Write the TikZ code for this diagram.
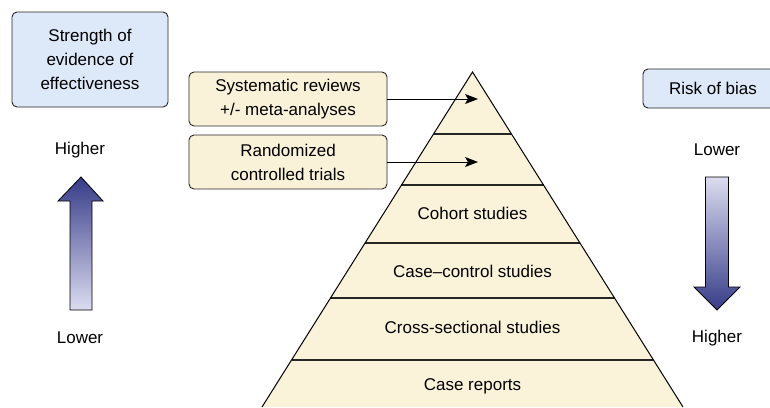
\documentclass[tikz,border=0pt]{standalone}
\usepackage{fontspec}
\setmainfont{Liberation Sans}
\usetikzlibrary{arrows.meta}
\definecolor{bluebox}{HTML}{DDE8F8}
\definecolor{creambox}{HTML}{FAF2D8}
\definecolor{pyrfill}{HTML}{FAF3DA}
\definecolor{arrdark}{HTML}{363C88}
\definecolor{arrlight}{HTML}{DCDCF0}
\tikzset{
  txt/.style={font=\fontsize{17}{24}\selectfont, align=center, inner sep=0pt},
  bbox/.style={draw=black!85, line width=0.9pt, rounded corners=5pt, fill=bluebox, txt},
  cbox/.style={draw=black!85, line width=0.9pt, rounded corners=5pt, fill=creambox, txt},
  lvl/.style={line width=1.2pt, black!85},
  ptr/.style={line width=1pt, -{Stealth[length=13pt,width=10pt,inset=3pt]}},
  fatarrow/.style={draw=black, line width=0.8pt}
}
\begin{document}
\begin{tikzpicture}[x=1pt,y=-1pt]
\useasboundingbox (0,0) rectangle (770,407);
% boxes
\node[bbox, minimum width=156pt, minimum height=95pt] (strength) at (90,59.5) {Strength of\\evidence of\\effectiveness};
\node[bbox, minimum width=140pt, minimum height=39pt] (risk) at (713,88.5) {Risk of bias};
\node[cbox, minimum width=198pt, minimum height=54pt] (sys) at (288,99) {Systematic reviews\\+/- meta-analyses};
\node[cbox, minimum width=198pt, minimum height=54pt] (rct) at (288,162) {Randomized\\controlled trials};
% pyramid
\coordinate (apex) at (472.5,72);
\coordinate (bl) at (262,407);
\coordinate (br) at (683,407);
\fill[pyrfill] (apex) -- (bl) -- (br) -- cycle;
\foreach \yy in {134,185,243,298,360}{
  \draw[lvl] ({472.5-(\yy-72)*0.6284},\yy) -- ({472.5+(\yy-72)*0.6284},\yy);
}
\draw[line width=1pt] (bl) -- (apex) -- (br);
\node[txt] (cohort) at (472.5,213) {Cohort studies};
\node[txt] (cc) at (472.5,271) {Case–control studies};
\node[txt] (cs) at (472.5,327) {Cross-sectional studies};
\node[txt] (cr) at (472.5,386) {Case reports};
% pointers
\coordinate (t1) at (478,99);
\coordinate (t2) at (478,162);
\draw[ptr] (sys.east) -- (t1);
\draw[ptr] (rct.east) -- (t2);
% labels
\node[txt] (lh) at (80,150) {Higher};
\node[txt] (ll) at (80,338) {Lower};
\node[txt] (rl) at (717,150) {Lower};
\node[txt] (rh) at (717,338) {Higher};
% left up arrow
\shade[top color=arrdark, bottom color=arrlight] (81,177) -- (103,201) -- (92,201) -- (92,310) -- (70,310) -- (70,201) -- (58,201) -- cycle;
\draw[fatarrow] (81,177) -- (103,201) -- (92,201) -- (92,310) -- (70,310) -- (70,201) -- (58,201) -- cycle;
% right down arrow
\shade[top color=arrlight, bottom color=arrdark] (705.5,177) -- (728.5,177) -- (728.5,287) -- (740,287) -- (717,310) -- (694,287) -- (705.5,287) -- cycle;
\draw[fatarrow] (705.5,177) -- (728.5,177) -- (728.5,287) -- (740,287) -- (717,310) -- (694,287) -- (705.5,287) -- cycle;
\end{tikzpicture}
\end{document}
